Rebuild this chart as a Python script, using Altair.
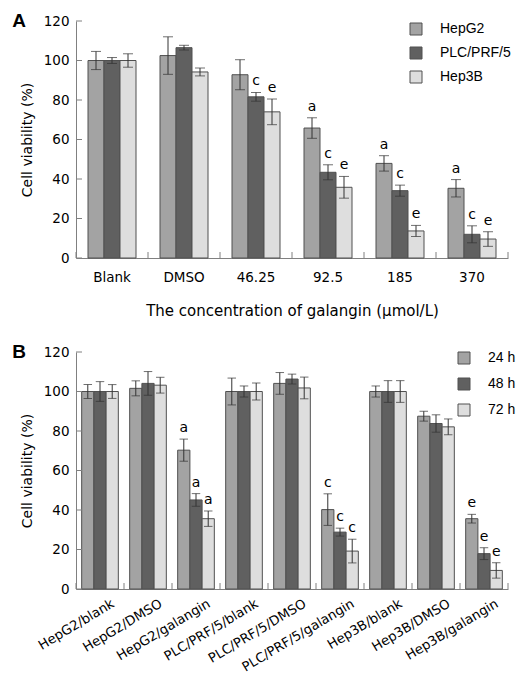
import altair as alt
import pandas as pd

# ---------------- Panel A data ----------------
conc = ["Blank", "DMSO", "46.25", "92.5", "185", "370"]
lines = ["HepG2", "PLC/PRF/5", "Hep3B"]
hepg2_a = [100, 102.5, 92.8, 65.8, 47.9, 35.3]
hepg2_a_err = [4.6, 9.5, 7.6, 5.2, 3.9, 4.4]
plc_a = [100, 106.5, 81.6, 43.4, 34.1, 12.0]
plc_a_err = [1.5, 1.2, 2.2, 3.8, 2.8, 4.3]
hep3b_a = [100, 94.2, 74.0, 35.8, 13.7, 9.6]
hep3b_a_err = [3.4, 2.0, 6.5, 5.5, 2.8, 3.7]
hepg2_a_sig = ["", "", "", "a", "a", "a"]
plc_a_sig = ["", "", "c", "c", "c", "c"]
hep3b_a_sig = ["", "", "e", "e", "e", "e"]

# ---------------- Panel B data ----------------
groups = ["HepG2/blank", "HepG2/DMSO", "HepG2/galangin",
          "PLC/PRF/5/blank", "PLC/PRF/5/DMSO", "PLC/PRF/5/galangin",
          "Hep3B/blank", "Hep3B/DMSO", "Hep3B/galangin"]
times = ["24 h", "48 h", "72 h"]
h24 = [100, 101.6, 70.3, 100, 104.1, 40.2, 100, 87.5, 35.6]
h24_err = [3.5, 3.8, 5.6, 6.8, 5.5, 8.0, 2.8, 2.5, 2.2]
h48 = [100, 104.1, 45.1, 100, 106.3, 28.8, 100, 83.8, 17.9]
h48_err = [5.0, 6.0, 3.2, 2.8, 2.5, 2.0, 5.5, 4.4, 3.0]
h72 = [100, 103.2, 35.6, 100, 101.8, 19.2, 100, 82.1, 9.4]
h72_err = [3.5, 4.0, 3.9, 4.3, 5.5, 6.0, 5.5, 4.0, 3.9]
h24_sig = ["", "", "a", "", "", "c", "", "", "e"]
h48_sig = ["", "", "a", "", "", "c", "", "", "e"]
h72_sig = ["", "", "a", "", "", "c", "", "", "e"]

yticks = [0, 20, 40, 60, 80, 100, 120]
bar_colors = ["#a3a3a3", "#606060", "#dedede"]

FONT = "DejaVu Sans"
LEG_FONT = "Liberation Sans"
AX = "#808080"
EDGE = "#505050"
ERR = "#333333"
W, H = 432, 237
YTITLE = "Cell viability (%)"


def long_df(cats, sers, vals, errs, sigs):
    rows = []
    for s, v, e, g in zip(sers, vals, errs, sigs):
        for c, vv, ee, gg in zip(cats, v, e, g):
            rows.append({"cat": c, "ser": s, "value": vv,
                         "lo": vv - ee, "hi": vv + ee, "sig": gg})
    return pd.DataFrame(rows)


def panel(df, cats, sers, pad_off, letter, xaxis, xtitle, legend_x, legend_y, row_pad, cap):
    yscale = alt.Scale(domain=[0, 120], nice=False, zero=True)
    yaxis = alt.Axis(values=yticks, ticks=False, grid=False, domainColor=AX,
                     labelOverlap=False, labelFont=FONT, labelFontSize=13.5,
                     labelColor="black", labelPadding=7, titleFont=FONT,
                     titleFontSize=14, titleFontWeight="normal",
                     titleColor="black", titlePadding=9)
    xscale = alt.Scale(domain=cats, paddingInner=0, paddingOuter=0)

    def X(bp=None):
        if bp is None:
            return alt.X("cat:N", sort=cats, scale=xscale, axis=xaxis, title=xtitle)
        return alt.X("cat:N", sort=cats, scale=xscale, axis=xaxis, title=xtitle,
                     bandPosition=bp)

    def Y(field):
        return alt.Y(field, scale=yscale, axis=yaxis, title=YTITLE)

    xo = alt.XOffset("ser:N", sort=sers,
                     scale=alt.Scale(domain=sers, paddingInner=0, paddingOuter=pad_off))
    base = alt.Chart(df)
    bars = base.mark_bar(stroke=EDGE, strokeWidth=1).encode(
        x=X(), xOffset=xo, y=Y("value:Q"),
        color=alt.Color("ser:N", sort=sers,
                        scale=alt.Scale(domain=sers, range=bar_colors),
                        legend=alt.Legend(title=None, orient="none",
                                          legendX=legend_x, legendY=legend_y,
                                          symbolType="square", symbolSize=144,
                                          symbolStrokeColor=EDGE, symbolStrokeWidth=1,
                                          symbolOpacity=1, labelFont=LEG_FONT,
                                          labelFontSize=14, labelColor="black",
                                          labelOffset=17, rowPadding=row_pad, padding=0)),
    )
    errs = base.mark_rule(color=ERR, strokeWidth=1).encode(
        x=X(), xOffset=xo, y=Y("lo:Q"), y2="hi:Q")
    cap_hi = base.mark_tick(color=ERR, size=cap, thickness=1).encode(
        x=X(), xOffset=xo, y=Y("hi:Q"))
    cap_lo = base.mark_tick(color=ERR, size=cap, thickness=1).encode(
        x=X(), xOffset=xo, y=Y("lo:Q"))
    sig = base.mark_text(font=FONT, fontSize=14, color="black",
                         baseline="alphabetic", dy=-7).encode(
        x=X(), xOffset=xo, y=Y("hi:Q"), text="sig:N")
    ytick = alt.Chart(pd.DataFrame({"value": yticks})).mark_rule(color=AX).encode(
        y=Y("value:Q"), x=alt.value(0), x2=alt.value(6))
    cat_df = pd.DataFrame({"cat": cats})
    xtick = alt.Chart(cat_df).mark_rule(color=AX).encode(
        x=X(0), y=alt.value(H - 6), y2=alt.value(H))
    xtick_end = alt.Chart(cat_df).transform_filter(
        alt.datum.cat == cats[-1]).mark_rule(color=AX).encode(
        x=X(1), y=alt.value(H - 6), y2=alt.value(H))
    lab = alt.Chart(pd.DataFrame({"p": [letter]})).mark_text(
        font="Liberation Sans", fontSize=19, fontWeight="bold", color="black",
        align="center", baseline="middle").encode(
        text="p:N", x=alt.value(-57), y=alt.value(0))
    return alt.layer(bars, errs, cap_hi, cap_lo, sig, ytick, xtick, xtick_end, lab).properties(
        width=W, height=H)


df_a = long_df(conc, lines, [hepg2_a, plc_a, hep3b_a],
               [hepg2_a_err, plc_a_err, hep3b_a_err],
               [hepg2_a_sig, plc_a_sig, hep3b_a_sig])
df_b = long_df(groups, times, [h24, h48, h72], [h24_err, h48_err, h72_err],
               [h24_sig, h48_sig, h72_sig])

title_a = "The concentration of galangin (\u03bcmol/L)"
xaxis_a = alt.Axis(labelAngle=0, ticks=False, domainColor=AX, labelFont=FONT,
                   labelFontSize=13.5, labelColor="black", labelPadding=12,
                   labelOverlap=False, titleFont=FONT, titleFontSize=15,
                   titleFontWeight="normal", titleColor="black", titlePadding=20)
xaxis_b = alt.Axis(labelAngle=-31, labelAlign="right", labelBaseline="top",
                   ticks=False, domainColor=AX, labelFont=FONT, labelFontSize=13.2,
                   labelColor="black", labelPadding=8, labelOffset=10,
                   labelOverlap=False, labelLimit=300)

pa = panel(df_a, conc, lines, 0.75, "A", xaxis_a, title_a, 333, 1, 8, 10)
pb = panel(df_b, groups, times, 0.465, "B", xaxis_b, None, 381, -1, 10, 8.5)

chart = alt.vconcat(pa, pb, spacing=24).resolve_scale(
    color="independent", x="independent", xOffset="independent"
).resolve_legend(color="independent").configure_view(stroke=None).properties(
    padding={"left": 4, "top": 4, "right": 0, "bottom": 0})

chart.save("out.html", embed_options={"renderer": "svg", "actions": False})
